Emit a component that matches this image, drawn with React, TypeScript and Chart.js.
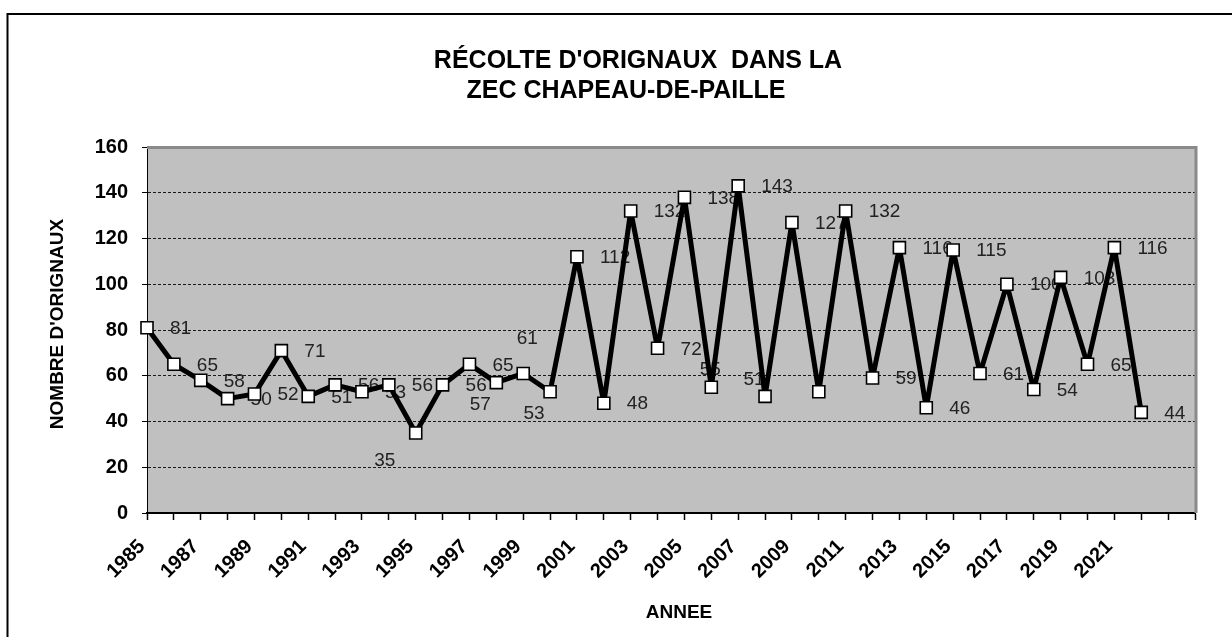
import React, { useEffect, useRef } from 'react';
import { Chart, registerables } from 'chart.js';

Chart.register(...registerables);

// ---- data ----
const years = [
  '1985', '1986', '1987', '1988', '1989', '1990', '1991', '1992', '1993', '1994',
  '1995', '1996', '1997', '1998', '1999', '2000', '2001', '2002', '2003', '2004',
  '2005', '2006', '2007', '2008', '2009', '2010', '2011', '2012', '2013', '2014',
  '2015', '2016', '2017', '2018', '2019', '2020', '2021', '2022',
];
// two empty categories extend the axis beyond the last year
const axisExtension = ['', ''];
const harvest = [
  81, 65, 58, 50, 52, 71, 51, 56, 53, 56,
  35, 56, 65, 57, 61, 53, 112, 48, 132, 72,
  138, 55, 143, 51, 127, 53, 132, 59, 116, 46,
  115, 61, 100, 54, 103, 65, 116, 44,
];
// where each value label sits relative to its point
const labelPlacement = [
  'right', 'right', 'right', 'right', 'right', 'right', 'right', 'right', 'right', 'right',
  'belowLeftFar', 'right', 'right', 'belowLeft', 'aboveFar', 'belowLeft', 'right', 'right', 'right', 'right',
  'right', 'above', 'right', 'aboveLeft', 'right', 'hidden', 'right', 'right', 'right', 'right',
  'right', 'right', 'right', 'right', 'right', 'right', 'right', 'right',
];
const titleLines = ["RÉCOLTE D'ORIGNAUX  DANS LA", 'ZEC CHAPEAU-DE-PAILLE'];
const yTitle = "NOMBRE D'ORIGNAUX";
const xTitle = 'ANNEE';

const FONT = '"Liberation Sans", Arial, Helvetica, sans-serif';

const placementOffsets: Record<string, [number, number]> = {
  belowLeftFar: [-31, 28],
  belowLeft: [-16, 22],
  aboveFar: [4, -35],
  above: [-1, -17],
  aboveLeft: [-11, -17],
};

const plotBackground = {
  id: 'plotBackground',
  beforeDraw(chart: any) {
    const { ctx, chartArea: a } = chart;
    ctx.save();
    ctx.fillStyle = '#FFFFFF';
    ctx.fillRect(0, 0, chart.width, chart.height);
    ctx.fillStyle = '#C0C0C0';
    ctx.fillRect(a.left, a.top, a.right - a.left, a.bottom - a.top);
    ctx.restore();
  },
};

const plotBorderAndLabels = {
  id: 'plotBorderAndLabels',
  beforeDatasetsDraw(chart: any) {
    const { ctx, chartArea: a } = chart;
    ctx.save();
    ctx.strokeStyle = '#8A8A8A';
    ctx.lineWidth = 3;
    ctx.beginPath();
    ctx.moveTo(a.left, a.top + 0.5);
    ctx.lineTo(a.right + 1, a.top + 0.5);
    ctx.lineTo(a.right + 1, a.bottom);
    ctx.stroke();

    // value labels (drawn under the line, as in the reference)
    const meta = chart.getDatasetMeta(0);
    ctx.font = `19px ${FONT}`;
    ctx.fillStyle = '#222222';
    ctx.textBaseline = 'middle';
    meta.data.forEach((pt: any, i: number) => {
      const v = harvest[i];
      if (v === undefined || v === null) return;
      const place = labelPlacement[i] || 'right';
      if (place === 'hidden') return;
      if (place === 'right') {
        ctx.textAlign = 'left';
        ctx.fillText(String(v), pt.x + 23, pt.y + 1);
      } else {
        const [dx, dy] = placementOffsets[place];
        ctx.textAlign = 'center';
        ctx.fillText(String(v), pt.x + dx, pt.y + dy);
      }
    });
    ctx.restore();
  },
};

const textsAndFrame = {
  id: 'textsAndFrame',
  afterDraw(chart: any) {
    const { ctx, chartArea: a } = chart;
    ctx.save();
    // outer frame
    ctx.strokeStyle = '#000';
    ctx.lineWidth = 2;
    ctx.strokeRect(7.5, 14, 1400, 800);

    // main title
    ctx.fillStyle = '#000';
    ctx.font = `bold 25px ${FONT}`;
    ctx.textAlign = 'center';
    ctx.textBaseline = 'alphabetic';
    ctx.fillText(titleLines[0], 638, 68);
    ctx.fillText(titleLines[1], 626, 98);

    // axis titles
    ctx.font = `bold 19px ${FONT}`;
    ctx.textBaseline = 'middle';
    ctx.fillText(xTitle, 679, 613);
    ctx.translate(58, (a.top + a.bottom) / 2 - 6);
    ctx.rotate(-Math.PI / 2);
    ctx.fillText(yTitle, 0, 0);
    ctx.restore();
  },
};

export default function App() {
  const canvasRef = useRef<HTMLCanvasElement>(null);

  useEffect(() => {
    const canvas = canvasRef.current;
    if (!canvas) return;
    const chart = new Chart(canvas, {
      type: 'line',
      data: {
        labels: [...years, ...axisExtension],
        datasets: [
          {
            label: 'Récolte',
            data: harvest,
            borderColor: '#000000',
            borderWidth: 5,
            borderJoinStyle: 'round',
            borderCapStyle: 'round',
            tension: 0,
            pointStyle: 'rect',
            pointRadius: 8.5,
            pointHoverRadius: 8.5,
            pointBackgroundColor: '#FFFFFF',
            pointBorderColor: '#000000',
            pointBorderWidth: 1.6,
            clip: false as any,
          },
        ],
      },
      options: {
        responsive: false,
        animation: false,
        events: [],
        layout: { padding: { top: 147, right: 37, left: 0, bottom: 0 } },
        plugins: {
          legend: { display: false },
          tooltip: { enabled: false },
          title: { display: false },
        },
        scales: {
          x: {
            type: 'category',
            offset: false,
            grid: {
              drawOnChartArea: false,
              drawTicks: true,
              tickLength: 7,
              tickColor: '#000',
              tickWidth: 1.5,
              color: '#000',
            },
            border: { display: true, color: '#000', width: 2 },
            ticks: {
              autoSkip: false,
              minRotation: 45,
              maxRotation: 45,
              padding: 15,
              labelOffset: -5,
              color: '#000',
              font: { family: FONT, size: 20, weight: 'bold' },
              callback: function (this: any, value: any, index: number) {
                return index % 2 === 0 ? this.getLabelForValue(value) : '';
              },
            },
            afterFit: (s: any) => {
              s.height = 124;
            },
          },
          y: {
            min: 0,
            max: 160,
            ticks: {
              stepSize: 20,
              padding: 14,
              color: '#000',
              font: { family: FONT, size: 20, weight: 'bold' },
            },
            grid: {
              color: (c: any) =>
                c.tick && (c.tick.value === 160 || c.tick.value === 0) ? 'rgba(0,0,0,0)' : '#1a1a1a',
              lineWidth: 1,
              tickLength: 5,
              tickColor: '#000',
              tickBorderDash: [],
            },
            border: { display: true, color: '#000', width: 1, dash: [3, 2] },
            afterFit: (s: any) => {
              s.width = 147;
            },
          },
        },
      },
      plugins: [plotBackground, plotBorderAndLabels, textsAndFrame],
    } as any);
    return () => chart.destroy();
  }, []);

  return (
    <div style={{ position: 'absolute', left: 0, top: 0, width: 1232, height: 637, background: '#fff' }}>
      <canvas ref={canvasRef} width={1232} height={637} style={{ width: 1232, height: 637, display: 'block' }} />
    </div>
  );
}
